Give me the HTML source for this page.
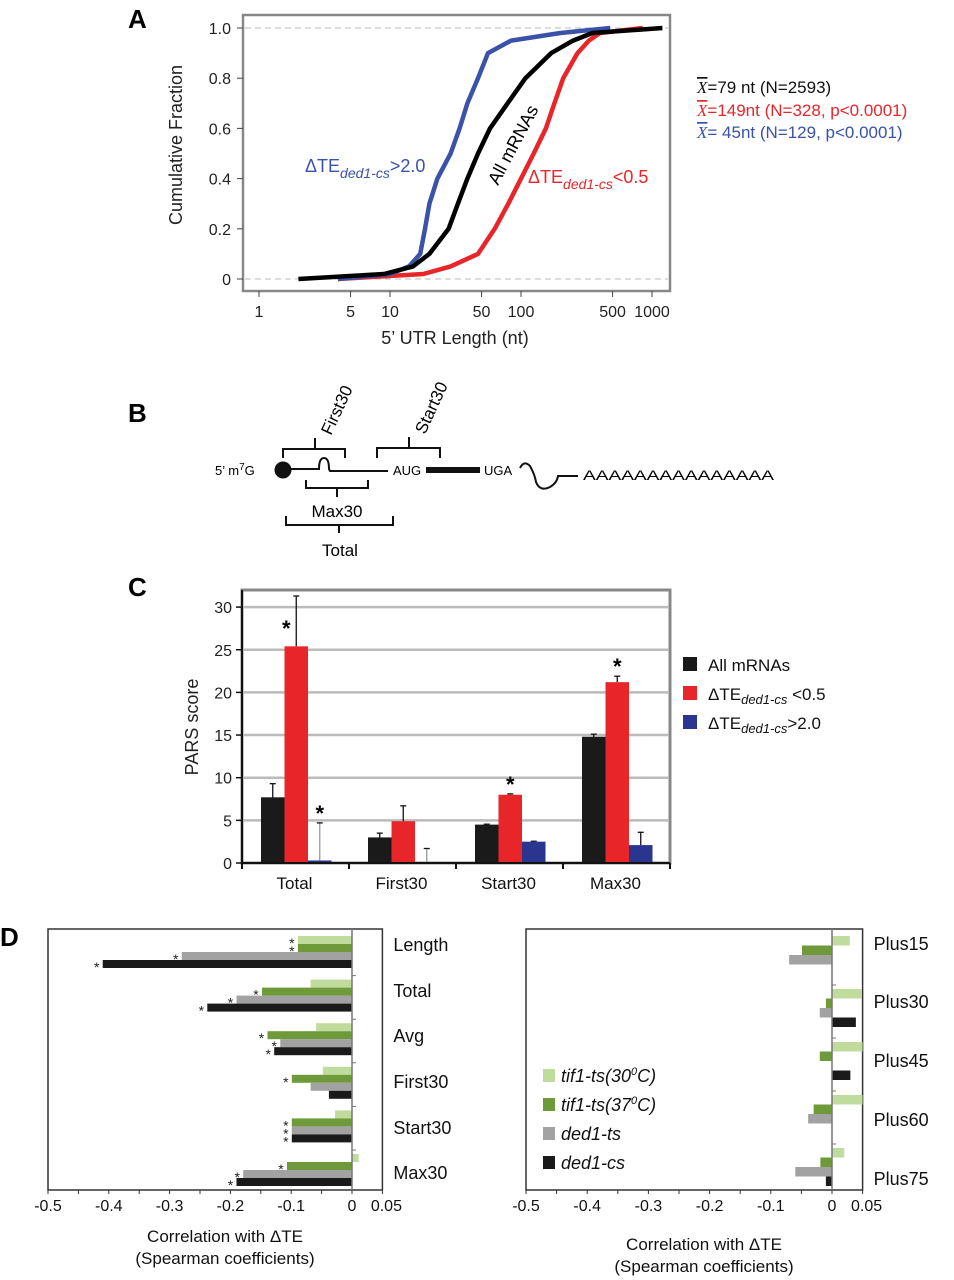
<!DOCTYPE html>
<html><head><meta charset="utf-8"><style>
body{margin:0;background:#fff}
svg{display:block;font-family:"Liberation Sans",Arial,sans-serif}
</style></head><body>
<svg id="fig" width="954" height="1280" viewBox="0 0 954 1280" xmlns="http://www.w3.org/2000/svg">
<g id="pA"></g>
<g id="pB"></g>
<g id="pC"></g>
<g id="pD"></g>
</svg>
<script>
// ---------- Panel A data ----------
const cdfFractions = [0,0.02,0.05,0.1,0.2,0.3,0.4,0.5,0.6,0.7,0.8,0.9,0.95,0.98,1.0];
const allLengths   = [2,9,15,20,28,33,39,47,58,79,108,170,250,350,1200];
const lowLengths   = [4,18,29,47,63,80,100,125,155,180,210,270,330,400,850];
const highLengths  = [4,10,14,17,18.5,20,23,29,34,39,47,56,84,200,480];
const xTickVals = [1,5,10,50,100,500,1000];
const yTickVals = [0,0.2,0.4,0.6,0.8,1.0];

// ---------- Panel C data ----------
const pCats = ['Total','First30','Start30','Max30'];
const parsAll = [7.7,3.0,4.5,14.8];
const parsAllErr = [1.6,0.5,0.05,0.3];
const parsLow = [25.4,4.9,8.0,21.2];
const parsLowErr = [5.9,1.8,0.1,0.7];
const parsHigh = [0.3,0,2.5,2.1];
const parsHighErr = [4.4,1.7,0.05,1.5];
const cStarsLow = [true,false,true,true];
const cStarsHigh = [true,false,false,false];
const cTicks = [0,5,10,15,20,25,30];

// ---------- Panel D data ----------
const dLeftCats = ['Length','Total','Avg','First30','Start30','Max30'];
const dLeftTif30 = [-0.089,-0.068,-0.059,-0.048,-0.028,0.011];
const dLeftTif37 = [-0.089,-0.148,-0.139,-0.099,-0.099,-0.107];
const dLeftDedTs = [-0.28,-0.19,-0.118,-0.068,-0.099,-0.179];
const dLeftDedCs = [-0.41,-0.238,-0.128,-0.038,-0.099,-0.19];
const dLeftStars = [[1,1,1,1],[0,1,1,1],[0,1,1,1],[0,1,0,0],[0,1,1,1],[0,1,1,1]];
const dRightCats = ['Plus15','Plus30','Plus45','Plus60','Plus75'];
const dRightTif30 = [0.029,0.049,0.05,0.05,0.02];
const dRightTif37 = [-0.049,-0.01,-0.02,-0.03,-0.019];
const dRightDedTs = [-0.07,-0.02,0,-0.039,-0.06];
const dRightDedCs = [0,0.039,0.03,0,-0.01];
const dTicks = [-0.5,-0.4,-0.3,-0.2,-0.1,0,0.05];
const dTickLabels = ['-0.5','-0.4','-0.3','-0.2','-0.1','0','0.05'];

const NS='http://www.w3.org/2000/svg';
function mk(parent,tag,attrs,text){const e=document.createElementNS(NS,tag);for(const k in attrs)e.setAttribute(k,attrs[k]);if(text!==undefined)e.textContent=text;parent.appendChild(e);return e;}

const fig=document.getElementById('fig');
[['A',128,28],['B',128,422],['C',128,596],['D',0,946]].forEach(l=>{
  const t=mk(fig,'text',{x:l[1],y:l[2],'font-size':26,'font-weight':'bold'},l[0]);
  
  
});

// ================= Panel A =================
(function(){
const g=document.getElementById('pA');
const ax=v=>259+131*Math.log10(v);
const ay=v=>279-251*v;
[0,1].forEach(v=>{const l=mk(g,'line',{x1:245,x2:668,y1:ay(v),y2:ay(v),stroke:'#bbb','stroke-dasharray':'6,4','stroke-width':1});
});
const box=mk(g,'rect',{x:243,y:15,width:427,height:276,fill:'none',stroke:'#888','stroke-width':2.5});

yTickVals.forEach(v=>{mk(g,'line',{x1:237,x2:243,y1:ay(v),y2:ay(v),stroke:'#444'});
const t=mk(g,'text',{x:231,y:ay(v)+6,'font-size':16,'text-anchor':'end',fill:'#222'},v===0?'0':v.toFixed(1));
});
xTickVals.forEach(v=>{mk(g,'line',{x1:ax(v),x2:ax(v),y1:291,y2:297,stroke:'#444'});
const t=mk(g,'text',{x:ax(v),y:317,'font-size':16,'text-anchor':'middle',fill:'#222'},String(v));
});
const yt=mk(g,'text',{x:0,y:0,'font-size':18,'text-anchor':'middle',transform:'translate(182,145) rotate(-90)',fill:'#222'},'Cumulative Fraction');

const xt=mk(g,'text',{x:455,y:344,'font-size':18,'text-anchor':'middle',fill:'#222'},"5’ UTR Length (nt)");

function curve(lens,col,name){
  let d='';lens.forEach((L,i)=>{d+=(i?'L':'M')+ax(L).toFixed(1)+','+ay(cdfFractions[i]).toFixed(1);});
  const p=mk(g,'path',{d:d,fill:'none',stroke:col,'stroke-width':4.5,'stroke-linejoin':'round'});
  
}
curve(lowLengths,'#e8262a','curve-te-low');
curve(highLengths,'#3a52a8','curve-te-high');
curve(allLengths,'#000','curve-all-mrnas');
let t=mk(g,'text',{x:305,y:172,'font-size':18,fill:'#3a52a8'});t.innerHTML='ΔTE<tspan font-size="14" font-style="italic" dy="6">ded1-cs</tspan><tspan dy="-6">&gt;2.0</tspan>';

t=mk(g,'text',{x:528,y:183,'font-size':18,fill:'#e8262a'});t.innerHTML='ΔTE<tspan font-size="14" font-style="italic" dy="6">ded1-cs</tspan><tspan dy="-6">&lt;0.5</tspan>';

t=mk(g,'text',{x:0,y:0,'font-size':18,fill:'#000',transform:'translate(498,186) rotate(-62)'},'All mRNAs');

const stats=[['=79 nt (N=2593)','#111',93],['=149nt (N=328, p<0.0001)','#e8262a',116],['= 45nt (N=129, p<0.0001)','#3a52a8',138]];
stats.forEach(s=>{const tt=mk(g,'text',{x:697,y:s[2],'font-size':17,fill:s[1]});
tt.innerHTML='<tspan font-family="Liberation Serif" font-style="italic" text-decoration="overline">X</tspan>'+s[0].replace('<','&lt;');
});
})();

// ================= Panel B =================
(function(){
const g=document.getElementById('pB');
const S={stroke:'#111',fill:'none','stroke-width':2};
let t=mk(g,'text',{x:215,y:475,'font-size':13});t.innerHTML="5’ m<tspan dy='-5' font-size='10'>7</tspan><tspan dy='5'>G</tspan>";

let c=mk(g,'circle',{cx:283,cy:470,r:8.5,fill:'#111'});
let p=mk(g,'path',Object.assign({d:'M291,469 L319,469 Q319,458 324,458 Q329,458 329,469 L330,471 L388,471'},S));
t=mk(g,'text',{x:393,y:475,'font-size':13},'AUG');
let r=mk(g,'rect',{x:426,y:467,width:54,height:6,fill:'#111'});
t=mk(g,'text',{x:484,y:475,'font-size':13},'UGA');
p=mk(g,'path',Object.assign({d:'M520,468 Q524,460 530,466 Q535,475 536,482 Q540,492 550,487 Q557,483 558,476 L578,476','stroke-width':3},S));
t=mk(g,'text',{x:583,y:480,'font-size':14,textLength:191,lengthAdjust:'spacingAndGlyphs'},'AAAAAAAAAAAAAAA');
function bracket(x1,x2,yb,ye,xt,yt,name){const q=mk(g,'path',Object.assign({d:`M${x1},${ye}L${x1},${yb}L${x2},${yb}L${x2},${ye}M${xt},${yb}L${xt},${yt}`,'stroke-width':1.3},S));}
bracket(283,345,449,458,315,438,'first30-bracket');
bracket(377,440,448,458,409,437,'start30-bracket');
bracket(306,368,488,480,337,497,'max30-bracket');
bracket(286,393,525,516,339,533,'total-bracket');
t=mk(g,'text',{x:0,y:0,'font-size':17,transform:'translate(331,436) rotate(-65)'},'First30');
t=mk(g,'text',{x:0,y:0,'font-size':17,transform:'translate(425,435) rotate(-65)'},'Start30');
t=mk(g,'text',{x:337,y:517,'font-size':17,'text-anchor':'middle'},'Max30');
t=mk(g,'text',{x:340,y:556,'font-size':17,'text-anchor':'middle'},'Total');
})();

// ================= Panel C =================
(function(){
const g=document.getElementById('pC');
const y=v=>863-8.53*v;
const X0=242,GW=107,BW=23.5,OFF=19;
mk(g,'rect',{x:242,y:590,width:428,height:273,fill:'#fff',stroke:'#888','stroke-width':3});
cTicks.forEach(v=>{if(v>0){const l=mk(g,'line',{x1:243,x2:669,y1:y(v),y2:y(v),stroke:'#bbb','stroke-width':2.5});}
mk(g,'line',{x1:236,x2:242,y1:y(v),y2:y(v),stroke:'#111','stroke-width':1.5});
const t=mk(g,'text',{x:232,y:y(v)+6,'font-size':16,'text-anchor':'end',fill:'#222'},String(v));
});
const series=[[parsAll,parsAllErr,'#1a1a1a','all'],[parsLow,parsLowErr,'#e8262a','low'],[parsHigh,parsHighErr,'#2a3590','high']];
pCats.forEach((c,i)=>{
  series.forEach((s,j)=>{
    const bx=X0+GW*i+OFF+BW*j, v=s[0][i], e=s[1][i];
    const top=v+e, lo=j===0?v-e:v;
    const el=mk(g,'line',{x1:bx+BW/2,x2:bx+BW/2,y1:y(top),y2:y(lo),stroke:j===2&&i<2?'#999':'#111','stroke-width':1.3});
    
    mk(g,'line',{x1:bx+BW/2-3,x2:bx+BW/2+3,y1:y(top),y2:y(top),stroke:'#111','stroke-width':1.3});
    const r=mk(g,'rect',{x:bx,y:y(v),width:BW,height:Math.max(0,y(0)-y(v)),fill:s[2]});
    
  });
  if(cStarsLow[i]){const t=mk(g,'text',{x:X0+GW*i+OFF+BW*1.5-(i===0?10:0),y:y(parsLow[i]+parsLowErr[i])+(i===0?40:-2),'font-size':22,'font-weight':'bold','text-anchor':'middle'},'*');}
  if(cStarsHigh[i]){const t=mk(g,'text',{x:X0+GW*i+OFF+BW*2.5,y:y(parsHigh[i]+parsHighErr[i])-2,'font-size':22,'font-weight':'bold','text-anchor':'middle'},'*');}
  const t=mk(g,'text',{x:X0+GW*i+GW/2-1,y:889,'font-size':17,'text-anchor':'middle',fill:'#111'},c);
  
});
mk(g,'line',{x1:242,x2:670,y1:863,y2:863,stroke:'#111','stroke-width':2});
mk(g,'line',{x1:242,x2:242,y1:590,y2:863,stroke:'#111','stroke-width':2});
for(let i=0;i<=4;i++)mk(g,'line',{x1:X0+GW*i,x2:X0+GW*i,y1:863,y2:869,stroke:'#111','stroke-width':2});
let t=mk(g,'text',{x:0,y:0,'font-size':18,'text-anchor':'middle',transform:'translate(198,727) rotate(-90)',fill:'#222'},'PARS score');

const leg=[['#1a1a1a','All mRNAs',671],['#e8262a','<0.5',700],['#2a3590','>2.0',729]];
leg.forEach((l,i)=>{const r=mk(g,'rect',{x:683,y:l[2]-14,width:14,height:14,fill:l[0]});
const tt=mk(g,'text',{x:708,y:l[2],'font-size':17,fill:'#111'});
if(i===0)tt.textContent=l[1];else tt.innerHTML='ΔTE<tspan font-size="13" font-style="italic" dy="4">ded1-cs</tspan><tspan dy="-4">'+(i===1?' &lt;0.5':'&gt;2.0')+'</tspan>';
});
})();

// ================= Panel D =================
(function(){
const g=document.getElementById('pD');
const cols=['#bfdc9c','#6e9a3a','#a2a2a2','#1a1a1a'];
function chart(x0,zero,scale,top,bot,cats,series,barTop,groupH,barH,labelCenters,stars,titleY,side){
  const x=v=>zero+scale*v;
  const f=mk(g,'rect',{x:x0,y:top,width:x(0.05)-x0,height:bot-top,fill:'#fff',stroke:'#333','stroke-width':1.5});
  
  cats.forEach((c,i)=>{
    series.forEach((s,j)=>{
      const v=s[i]; if(v===0)return;
      const by=barTop+groupH*i+barH*j;
      const r=mk(g,'rect',{x:Math.min(x(0),x(v)),y:by,width:Math.abs(x(v)-x(0)),height:barH,fill:cols[j]});
      
      if(stars&&stars[i][j]){const t=mk(g,'text',{x:x(Math.min(v,0))-6,y:by+barH+4,'font-size':14,'text-anchor':'middle',fill:'#222'},'*');}
    });
    if(i>0)mk(g,'line',{x1:x(0),x2:x(0)+4,y1:barTop+groupH*i-4,y2:barTop+groupH*i-4,stroke:'#777'});
    const t=mk(g,'text',{x:x(0.05)+11,y:labelCenters[i]+7,'font-size':18,fill:'#111'},c);
    
  });
  const z=mk(g,'line',{x1:x(0),x2:x(0),y1:top,y2:bot,stroke:'#777','stroke-width':1.5});
  
  for(let v=-0.5;v<=0.051;v+=0.05)mk(g,'line',{x1:x(v),x2:x(v),y1:bot,y2:bot+4,stroke:'#333'});
  dTicks.forEach((v,i)=>{const t=mk(g,'text',{x:x(v)+(i===6?4:0),y:bot+21,'font-size':16,'text-anchor':'middle',fill:'#111'},dTickLabels[i]);
  });
  const cx=(x0+x(0))/2+25;
  let t=mk(g,'text',{x:cx,y:titleY,'font-size':17,'text-anchor':'middle',fill:'#111'},'Correlation with ΔTE');
  
  t=mk(g,'text',{x:cx,y:titleY+22,'font-size':17,'text-anchor':'middle',fill:'#111'},'(Spearman coefficients)');
  
}
chart(48,352,608,929,1190,dLeftCats,[dLeftTif30,dLeftTif37,dLeftDedTs,dLeftDedCs],936,43.6,8,[944,990,1035,1081,1127,1172],dLeftStars,1242,'left');
chart(526,832,612,929,1190,dRightCats,[dRightTif30,dRightTif37,dRightDedTs,dRightDedCs],936,53,9.5,[943,1001,1060,1119,1178],null,1250,'right');
const leg=[['tif1-ts(30','C)',1082],['tif1-ts(37','C)',1111],['ded1-ts','',1140],['ded1-cs','',1169]];
leg.forEach((l,i)=>{const r=mk(g,'rect',{x:543,y:l[2]-13,width:12,height:13,fill:cols[i]});
const t=mk(g,'text',{x:561,y:l[2],'font-size':18,'font-style':'italic',fill:'#111'});
t.innerHTML=l[1]?l[0]+'<tspan dy="-7" font-size="11">0</tspan><tspan dy="7">'+l[1]+'</tspan>':l[0];
});
})();
</script>
</body></html>
